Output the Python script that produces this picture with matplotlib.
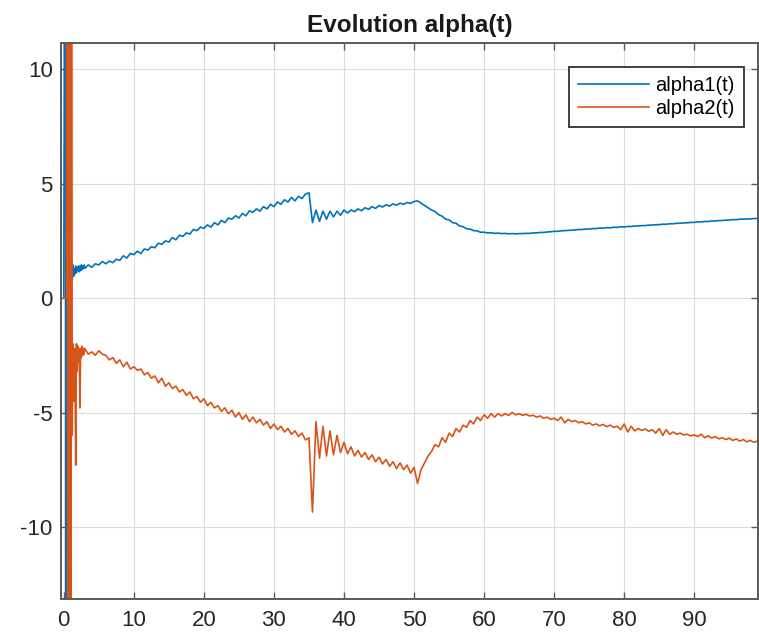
import numpy as np
import matplotlib
matplotlib.use("Agg")
import matplotlib.pyplot as plt

plt.rcParams['font.family'] = ['Liberation Sans', 'DejaVu Sans']
plt.rcParams['axes.unicode_minus'] = False

# time grid: fine steps during the start-up transient, then 0.5 steps
t_early = np.round(np.arange(0.0, 3.0, 0.1), 1)
t_main = np.arange(3.0, 103.0, 0.5)

# alpha1(t), early transient (t = 0.0 .. 2.9)
alpha1_early = [0, 15, 60, -20, 40, -60, -30, -8, -3, -1,
                0.7, 1.6, 0.8, 1.45, 0.95, 1.3, 1.05, 1.4, 1.1, 1.35,
                1.2, 1.4, 1.15, 1.4, 1.2, 1.45, 1.25, 1.4, 1.3, 1.45]
# alpha1(t), t = 3.0 .. 102.5 (one row = 5 time units)
alpha1_main = [
    1.30, 1.45, 1.35, 1.50, 1.45, 1.60, 1.50, 1.62, 1.55, 1.70,
    1.65, 1.85, 1.75, 1.95, 1.90, 2.05, 1.95, 2.15, 2.10, 2.25,
    2.20, 2.40, 2.35, 2.50, 2.45, 2.65, 2.55, 2.75, 2.70, 2.85,
    2.80, 3.00, 2.95, 3.10, 3.05, 3.20, 3.10, 3.30, 3.20, 3.40,
    3.30, 3.50, 3.45, 3.60, 3.50, 3.70, 3.60, 3.82, 3.75, 3.90,
    3.80, 4.00, 3.90, 4.10, 4.00, 4.20, 4.10, 4.30, 4.20, 4.40,
    4.25, 4.45, 4.35, 4.55, 4.60, 3.30, 3.85, 3.35, 3.80, 3.45,
    3.80, 3.55, 3.80, 3.62, 3.85, 3.72, 3.85, 3.78, 3.90, 3.82,
    3.95, 3.88, 4.00, 3.92, 4.05, 3.98, 4.08, 4.02, 4.12, 4.06,
    4.15, 4.10, 4.18, 4.14, 4.22, 4.25, 4.15, 4.05, 3.95, 3.85,
    3.78, 3.65, 3.58, 3.45, 3.42, 3.30, 3.27, 3.15, 3.12, 3.03,
    3.02, 2.95, 2.94, 2.88, 2.88, 2.85, 2.86, 2.83, 2.84, 2.82,
    2.83, 2.81, 2.82, 2.81, 2.82, 2.82, 2.83, 2.83, 2.85, 2.85,
    2.87, 2.87, 2.89, 2.90, 2.92, 2.92, 2.94, 2.95, 2.96, 2.97,
    2.98, 3.00, 3.00, 3.02, 3.02, 3.04, 3.04, 3.06, 3.06, 3.08,
    3.07, 3.10, 3.09, 3.12, 3.11, 3.13, 3.13, 3.15, 3.15, 3.17,
    3.17, 3.19, 3.19, 3.21, 3.21, 3.23, 3.23, 3.25, 3.25, 3.27,
    3.27, 3.29, 3.29, 3.31, 3.31, 3.33, 3.33, 3.35, 3.35, 3.37,
    3.37, 3.39, 3.39, 3.41, 3.41, 3.43, 3.43, 3.45, 3.45, 3.46,
    3.46, 3.48, 3.48, 3.50, 3.50, 3.51, 3.52, 3.53, 3.53, 3.54,
]

# alpha2(t), early transient (t = 0.0 .. 2.9)
alpha2_early = [0, 0, 0, 0, 0, 50, -50, 40, -40, 30,
                -25, 14, -6.0, -2.0, -4.5, -2.2, -3.5, -7.3, -2.0, -3.2,
                -2.1, -2.8, -2.2, -4.8, -2.2, -2.6, -2.1, -2.5, -2.2, -2.45]
# alpha2(t), t = 3.0 .. 102.5
alpha2_main = [
    -2.20, -2.45, -2.35, -2.50, -2.30, -2.45, -2.50, -2.70, -2.60, -2.85,
    -2.70, -3.00, -2.80, -3.10, -3.00, -3.15, -3.10, -3.35, -3.25, -3.50,
    -3.40, -3.70, -3.50, -3.85, -3.70, -3.95, -3.85, -4.10, -4.00, -4.25,
    -4.10, -4.40, -4.30, -4.55, -4.40, -4.70, -4.55, -4.80, -4.70, -4.95,
    -4.80, -5.05, -4.90, -5.20, -5.00, -5.30, -5.10, -5.40, -5.20, -5.45,
    -5.30, -5.55, -5.40, -5.70, -5.50, -5.75, -5.60, -5.85, -5.70, -5.95,
    -5.80, -6.05, -5.90, -6.20, -6.10, -9.35, -5.40, -7.00, -5.60, -6.90,
    -5.80, -6.85, -6.00, -6.75, -6.30, -6.80, -6.50, -6.90, -6.65, -6.95,
    -6.75, -7.05, -6.85, -7.15, -6.95, -7.25, -7.05, -7.35, -7.15, -7.45,
    -7.20, -7.50, -7.30, -7.65, -7.40, -8.10, -7.50, -7.20, -6.90, -6.70,
    -6.40, -6.50, -6.10, -6.30, -5.90, -6.05, -5.70, -5.85, -5.55, -5.65,
    -5.35, -5.50, -5.20, -5.35, -5.10, -5.25, -5.05, -5.20, -5.05, -5.15,
    -5.05, -5.12, -5.00, -5.10, -5.05, -5.12, -5.08, -5.15, -5.12, -5.20,
    -5.15, -5.25, -5.20, -5.30, -5.25, -5.35, -5.20, -5.45, -5.30, -5.40,
    -5.35, -5.45, -5.40, -5.50, -5.45, -5.55, -5.50, -5.58, -5.52, -5.62,
    -5.55, -5.65, -5.60, -5.75, -5.50, -5.85, -5.60, -5.80, -5.70, -5.78,
    -5.72, -5.82, -5.75, -5.90, -5.70, -6.00, -5.75, -5.95, -5.85, -5.95,
    -5.90, -5.98, -5.95, -6.02, -5.98, -6.05, -5.95, -6.10, -6.02, -6.12,
    -6.05, -6.15, -6.10, -6.18, -6.12, -6.22, -6.15, -6.25, -6.18, -6.28,
    -6.22, -6.30, -6.25, -6.35, -6.30, -6.38, -6.35, -6.42, -6.40, -6.45,
]

t = np.concatenate([t_early, t_main])
alpha1 = np.concatenate([alpha1_early, alpha1_main])
alpha2 = np.concatenate([alpha2_early, alpha2_main])

fig = plt.figure(figsize=(7.59, 6.36), dpi=100)
ax = fig.add_axes([61 / 759, 1 - 599 / 636, 697 / 759, 556 / 636])

ax.plot(t, alpha1, color='#0072BD', lw=1.2, label='alpha1(t)')
ax.plot(t, alpha2, color='#D95319', lw=1.2, label='alpha2(t)')

ax.set_xlim(-0.4, 99.1)
ax.set_ylim(-13.15, 11.15)
ax.set_xticks(np.arange(0, 100, 10))
ax.set_yticks([-10, -5, 0, 5, 10])

ax.grid(True, color='#dcdcdc', lw=0.8)
ax.set_axisbelow(True)
for s in ax.spines.values():
    s.set_color('#5a5a5a')
    s.set_linewidth(1.4)
ax.tick_params(direction='in', top=True, right=True, length=5, width=1.0,
               color='#5a5a5a', labelsize=16, labelcolor='#262626')
ax.tick_params(axis='y', pad=6)
ax.tick_params(axis='x', pad=8)

ax.set_title('Evolution alpha(t)', fontsize=17.5, fontweight='bold', pad=8,
             color='#1a1a1a')

leg = ax.legend(loc='upper right', bbox_to_anchor=(0.98, 0.957),
                fontsize=14.5, handlelength=3.5, handletextpad=0.35,
                fancybox=False, framealpha=1, borderaxespad=0,
                labelspacing=0.2, borderpad=0.45)
leg.get_frame().set_edgecolor('#404040')
leg.get_frame().set_linewidth(1.4)

fig.savefig('out.png', dpi=100)
